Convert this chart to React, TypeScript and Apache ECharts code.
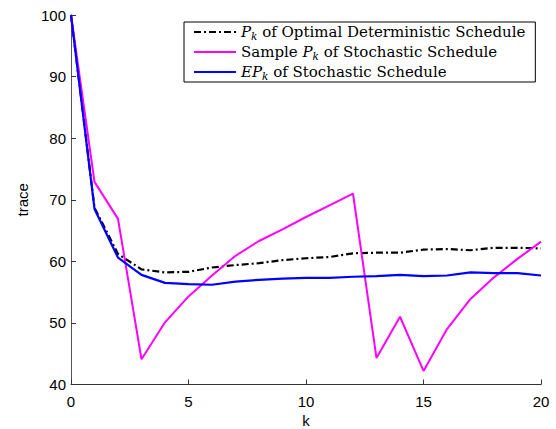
import React, { useEffect, useRef } from "react";
import * as echarts from "echarts";

const ks = [0, 1, 2, 3, 4, 5, 6, 7, 8, 9, 10, 11, 12, 13, 14, 15, 16, 17, 18, 19, 20];
const deterministic = [100, 68.7, 61.2, 58.7, 58.2, 58.3, 59.0, 59.4, 59.7, 60.2, 60.5, 60.7, 61.3, 61.4, 61.4, 61.9, 62.0, 61.8, 62.2, 62.2, 62.1];
const sample = [100, 72.9, 66.9, 44.1, 50.1, 54.3, 57.7, 60.9, 63.3, 65.2, 67.2, 69.1, 71.0, 44.3, 51.0, 42.2, 49.0, 53.9, 57.4, 60.4, 63.2];
const expected = [100, 68.5, 60.6, 57.8, 56.5, 56.3, 56.2, 56.7, 57.0, 57.2, 57.3, 57.3, 57.5, 57.6, 57.8, 57.6, 57.7, 58.2, 58.1, 58.1, 57.7];
const legendNames = ["Pk of Optimal Deterministic Schedule", "Sample Pk of Stochastic Schedule", "EPk of Stochastic Schedule"];
const legendRich = [
  "{i|P}{s|k}{t| of Optimal Deterministic Schedule}",
  "{t|Sample }{i|P}{s|k}{t| of Stochastic Schedule}",
  "{i|EP}{s|k}{t| of Stochastic Schedule}",
];

const pairs = (ys: number[]) => ks.map((k, i) => [k, ys[i]]);

export default function App() {
  const ref = useRef<HTMLDivElement>(null);
  useEffect(() => {
    if (!ref.current) return;
    const chart = echarts.init(ref.current, null, { renderer: "svg" });
    const serif = "DejaVu Serif";
    const sans = "Liberation Sans";
    const fs = 15;
    chart.setOption({
      animation: false,
      backgroundColor: "#fff",
      grid: { left: 71, top: 15, right: 15, bottom: 44.5, containLabel: false, outerBoundsMode: "none" },
      legend: {
        orient: "vertical",
        left: 184,
        top: 22,
        itemWidth: 42,
        itemHeight: 14,
        itemGap: 2,
        padding: [1, 10, 1, 9],
        borderColor: "#000",
        borderWidth: 1,
        backgroundColor: "#fff",
        borderRadius: 0,
        itemStyle: { opacity: 0 },
        data: legendNames,
        formatter: (name: string) => legendRich[legendNames.indexOf(name)],
        textStyle: {
          fontFamily: serif,
          fontSize: fs,
          color: "#000",
          lineHeight: 18,
          rich: {
            t: { fontFamily: serif, fontSize: fs, color: "#000", lineHeight: 18 },
            i: { fontFamily: serif, fontStyle: "italic", fontSize: fs, color: "#000", lineHeight: 18 },
            s: { fontFamily: serif, fontStyle: "italic", fontSize: 10.5, color: "#000", lineHeight: 8, verticalAlign: "bottom" },
          },
        },
      },
      xAxis: {
        type: "value",
        min: 0,
        max: 20,
        interval: 5,
        name: "k",
        nameLocation: "middle",
        nameGap: 25,
        nameTextStyle: { fontFamily: sans, fontSize: 15, color: "#000" },
        axisLine: { lineStyle: { color: "#333", width: 1 } },
        axisTick: { inside: true, length: 5, lineStyle: { color: "#333" } },
        axisLabel: { margin: 9, fontFamily: sans, fontSize: 15, color: "#000" },
        splitLine: { show: false },
      },
      yAxis: {
        type: "value",
        min: 40,
        max: 100,
        interval: 10,
        name: "trace",
        nameLocation: "middle",
        nameGap: 40,
        nameRotate: 90,
        nameTextStyle: { fontFamily: sans, fontSize: 15, color: "#000" },
        axisLine: { show: true, lineStyle: { color: "#555", width: 1 } },
        axisTick: { show: true, inside: true, length: 5, lineStyle: { color: "#333" } },
        axisLabel: { margin: 5, fontFamily: sans, fontSize: 15, color: "#000" },
        splitLine: { show: false },
      },
      series: [
        {
          name: legendNames[0],
          type: "line",
          data: pairs(deterministic),
          showSymbol: false,
          symbol: "none",
          lineStyle: { color: "#000", width: 2.2, type: [7, 3, 2, 3] },
          itemStyle: { color: "#000" },
        },
        {
          name: legendNames[1],
          type: "line",
          data: pairs(sample),
          showSymbol: false,
          symbol: "none",
          lineStyle: { color: "#ff00ff", width: 2 },
          itemStyle: { color: "#ff00ff" },
        },
        {
          name: legendNames[2],
          type: "line",
          data: pairs(expected),
          showSymbol: false,
          symbol: "none",
          lineStyle: { color: "#0000ff", width: 2.2 },
          itemStyle: { color: "#0000ff" },
        },
      ],
    });
    return () => chart.dispose();
  }, []);
  return <div ref={ref} style={{ width: 556, height: 429, position: "absolute", left: 0, top: 0 }} />;
}
